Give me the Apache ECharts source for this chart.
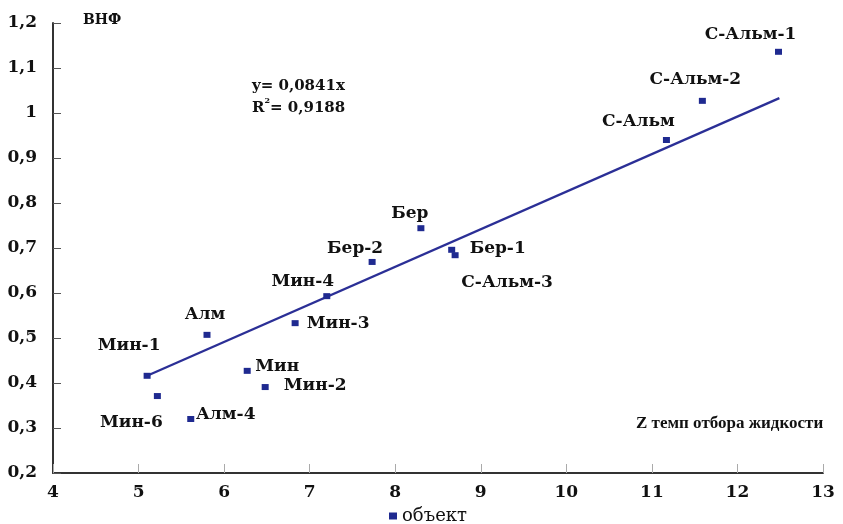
<!DOCTYPE html>
<html>
<head>
<meta charset="utf-8">
<script src="https://cdn.jsdelivr.net/npm/echarts@6/dist/echarts.min.js"></script>
<style>
  html, body { margin: 0; padding: 0; background: #fff; }
  #main { width: 843px; height: 524px; }
</style>
</head>
<body>
<div id="main"></div>
<script>
// объекты и их значения (Z темп отбора жидкости, ВНФ)
const names = ['Мин-1', 'Мин-6', 'Алм-4', 'Алм', 'Мин', 'Мин-2', 'Мин-3', 'Мин-4',
  'Бер-2', 'Бер', 'Бер-1', 'С-Альм-3', 'С-Альм', 'С-Альм-2', 'С-Альм-1'];
const zValues = [5.10, 5.22, 5.61, 5.80, 6.27, 6.48, 6.83, 7.20,
  7.73, 8.30, 8.66, 8.70, 11.17, 11.59, 12.48];
const vnfValues = [0.416, 0.371, 0.320, 0.507, 0.427, 0.391, 0.533, 0.593,
  0.669, 0.744, 0.696, 0.684, 0.940, 1.027, 1.136];

// линия тренда (концы)
const trendX = [5.10, 12.49];
const trendY = [0.416, 1.033];

const xTicks = [4, 5, 6, 7, 8, 9, 10, 11, 12, 13];
const yTicks = [0.2, 0.3, 0.4, 0.5, 0.6, 0.7, 0.8, 0.9, 1, 1.1, 1.2];

// смещения подписей, px
const labelOffsets = {
  'Мин-1': [-18, -30], 'Мин-6': [-26, 27], 'Алм-4': [35, -4], 'Алм': [-2, -20],
  'Мин': [30, -4], 'Мин-2': [50, -1], 'Мин-3': [43, 0], 'Мин-4': [-24, -15],
  'Бер-2': [-17, -13], 'Бер': [-11, -15], 'Бер-1': [46, -1], 'С-Альм-3': [52, 27],
  'С-Альм': [-28, -18], 'С-Альм-2': [-7, -21], 'С-Альм-1': [-28, -17]
};

const chart = echarts.init(document.getElementById('main'));
const serif = 'DejaVu Serif';

const pointData = names.map((n, i) => ({
  name: n,
  value: [zValues[i], vnfValues[i]],
  label: { offset: labelOffsets[n] }
}));

const option = {
  backgroundColor: '#fff',
  animation: false,
  grid: { left: 53, right: 20, top: 23, bottom: 51 },
  legend: {
    data: ['объект'],
    left: 384, top: 502,
    itemWidth: 8, itemHeight: 7, itemGap: 7,
    itemStyle: { opacity: 1 },
    textStyle: { fontFamily: serif, fontSize: 18, color: '#111' }
  },
  xAxis: {
    type: 'value', min: 4, max: 13, interval: 1,
    axisLine: { lineStyle: { color: '#333', width: 2 } },
    axisTick: { inside: true, length: 9, lineStyle: { color: '#aaa' } },
    splitLine: { show: false },
    axisLabel: {
      margin: 11, fontFamily: serif, fontWeight: 'bold', fontSize: 17, color: '#111',
      formatter: v => xTicks.includes(v) ? String(v) : ''
    }
  },
  yAxis: {
    type: 'value', min: 0.2, max: 1.2, interval: 0.1,
    axisLine: { show: true, lineStyle: { color: '#333', width: 2 } },
    axisTick: { show: true, inside: true, length: 8, lineStyle: { color: '#555' } },
    splitLine: { show: false },
    axisLabel: {
      margin: 16, fontFamily: serif, fontWeight: 'bold', fontSize: 17, color: '#111',
      formatter: v => {
        const r = Math.round(v * 10) / 10;
        return yTicks.includes(r) ? String(r).replace('.', ',') : '';
      }
    }
  },
  series: [
    {
      name: 'тренд',
      type: 'line',
      data: trendX.map((x, i) => [x, trendY[i]]),
      symbol: 'none',
      lineStyle: { color: '#2b2f96', width: 2.3 },
      z: 2
    },
    {
      name: 'объект',
      type: 'scatter',
      data: pointData,
      symbol: 'rect',
      symbolSize: [7, 6],
      itemStyle: { color: '#1f2a90', opacity: 1 },
      label: {
        show: true, position: 'inside', formatter: '{b}',
        fontFamily: serif, fontWeight: 'bold', fontSize: 17, color: '#111'
      },
      z: 3
    }
  ],
  graphic: [
    {
      type: 'text', left: 83, top: 13,
      style: { text: 'ВНФ', font: 'bold 14px "DejaVu Serif"', fill: '#111' }
    },
    {
      type: 'text', left: 252, top: 75,
      style: {
        text: 'y= 0,0841x\nR{sup|2}= 0,9188',
        font: 'bold 15px "DejaVu Serif"', fill: '#111', lineHeight: 22,
        rich: { sup: { font: 'bold 8px "DejaVu Serif"', fill: '#111', verticalAlign: 'top', lineHeight: 22, padding: [0, 0, 8, 0] } }
      }
    },
    {
      type: 'text', left: 636, top: 415,
      style: { text: 'Z темп отбора жидкости', font: 'bold 17px "Liberation Serif"', fill: '#111' }
    }
  ]
};

chart.setOption(option);
</script>
</body>
</html>
